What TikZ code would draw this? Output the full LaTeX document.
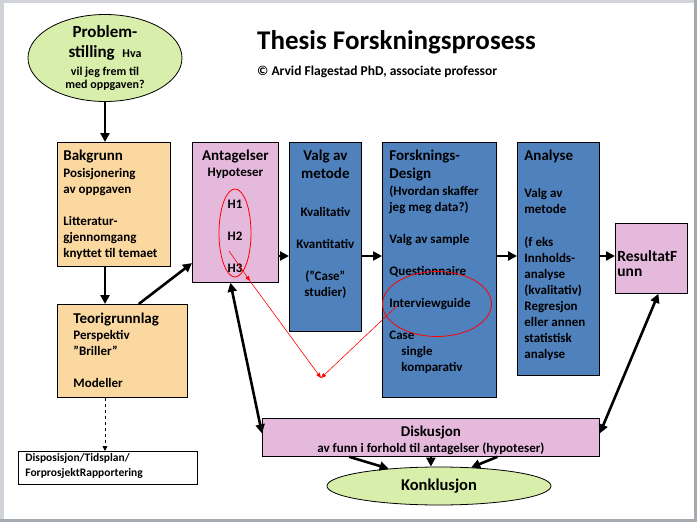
\documentclass[tikz,border=0pt]{standalone}
\usepackage{fontspec}
\setmainfont{Carlito}
\usetikzlibrary{positioning,calc,arrows.meta,shapes.geometric}

\definecolor{blaa}{RGB}{79,129,189}
\definecolor{rosa}{RGB}{229,185,220}
\definecolor{oransje}{RGB}{250,216,160}
\definecolor{groenn}{RGB}{215,239,170}
\definecolor{rammegraa}{RGB}{165,170,176}
\definecolor{lysgraa}{RGB}{208,212,216}

\newcommand{\overskrift}{\fontsize{15}{17}\selectfont}
\newcommand{\brodtekst}{\fontsize{13}{16}\selectfont\bfseries}
\newcommand{\felt}[3]{\parbox[t][#2][t]{#1}{#3}}

\begin{document}
\begin{tikzpicture}[x=1pt, y=-1pt,
	boks/.style={draw=black, line width=0.8pt, anchor=north west, inner xsep=6pt, inner ysep=8pt, font=\brodtekst},
	pil/.style={-{Triangle[length=9pt,width=9pt]}, line width=2.6pt},
	dobbelpil/.style={{Triangle[length=9pt,width=9pt]}-{Triangle[length=9pt,width=9pt]}, line width=2.6pt},
	rodring/.style={draw=red, ellipse, line width=0.8pt, inner sep=0pt},
	rodpil/.style={red, line width=0.6pt, -{Triangle[length=5pt,width=4pt]}}]
		% ramme
		\useasboundingbox (0,0) rectangle (697,522);
		\fill[rammegraa] (0,0) rectangle (697,522);
		\fill[lysgraa] (0,0) rectangle (694,519);
		\fill[white] (4,3) rectangle (694,519);

		\node[anchor=west, inner sep=0pt, font=\fontsize{27}{30}\selectfont\bfseries] (tittel) at (257,42) {Thesis Forskningsprosess};
		\node[anchor=west, inner sep=0pt, font=\fontsize{13.5}{15}\selectfont\bfseries] (forfatter) at (257,72) {© Arvid Flagestad PhD, associate professor};

		\node[ellipse, draw, line width=0.8pt, fill=groenn, minimum width=154pt, minimum height=87pt, inner sep=0pt] (problem) at (105,58) {};
		\node[anchor=north, inner sep=0pt, align=center, font=\fontsize{17}{20}\selectfont\bfseries] (problemtekst) at (105,25)
			{Problem-\\ stilling\ \ {\fontsize{12}{14}\selectfont Hva}\\[-2pt]
			{\fontsize{12}{14}\selectfont vil jeg frem til}\\[-7pt] {\fontsize{12}{14}\selectfont med oppgaven?}};

		\node[boks, fill=oransje] (bakgrunn) at (57,142) {\felt{101pt}{108pt}{{\overskrift Bakgrunn}\\[1pt] Posisjonering\\ av oppgaven\\[16pt] Litteratur-\\ gjennomgang\\ knyttet til temaet}};
		\node[boks, fill=oransje, inner xsep=16pt, inner ysep=9pt] (teori) at (57,304) {\felt{98pt}{75pt}{{\overskrift Teorigrunnlag}\\ Perspektiv\\ ”Briller”\\[16pt] Modeller}};
		\node[boks, fill=rosa] (antag) at (192,142) {\felt{74pt}{124pt}{\centering{\overskrift Antagelser}\\ Hypoteser}};
		\node[boks, fill=blaa, inner xsep=4pt] (metode) at (289,142) {\felt{64pt}{173pt}{\centering{\overskrift Valg av\\[2pt] metode}\\[22pt] Kvalitativ\\[16pt] Kvantitativ\\[16pt] (”Case”\\ studier)}};
		\node[boks, fill=blaa, inner xsep=7pt] (forsk) at (382,142) {\felt{100pt}{239pt}{{\overskrift Forsknings-\\[2pt] Design}\\[1pt] (Hvordan skaffer\\ jeg meg data?)\\[16pt] Valg av sample\\[16pt] Questionnaire\\[16pt] Interviewguide\\[16pt] Case\\ \hspace*{12pt}single\\ \hspace*{12pt}komparativ}};
		\node[boks, fill=blaa, inner xsep=7pt] (analyse) at (517,142) {\felt{68pt}{217pt}{{\overskrift Analyse}\\[21pt] Valg av\\ metode\\[17pt] (f eks\\ Innholds-\\ analyse\\ (kvalitativ)\\ Regresjon\\ eller annen\\ statistisk\\ analyse}};
		\node[boks, fill=rosa, inner xsep=2pt, inner ysep=2pt, font=\fontsize{15.5}{15}\selectfont\bfseries] (resultat) at (615,223)
			{\felt{68pt}{66pt}{\vspace*{25pt}ResultatF\\unn}};
		\node[boks, fill=rosa] (disk) at (262,418)
			{\felt{325pt}{22pt}{\centering{\overskrift Diskusjon}\\ av funn i forhold til antagelser (hypoteser)}};
		\node[ellipse, draw, line width=0.8pt, fill=groenn, minimum width=224pt, minimum height=38pt, inner sep=0pt,
			font=\fontsize{16.5}{18}\selectfont\bfseries] (konkl) at (439,486) {Konklusjon};
		\node[boks, fill=white, inner xsep=7pt, inner ysep=1pt, font=\fontsize{11.5}{15}\selectfont\bfseries] (dispo) at (18,451)
			{\felt{165pt}{31pt}{\vspace*{1pt}Disposisjon/Tidsplan/\\ForprosjektRapportering}};

		\node[font=\brodtekst] (h1) at (235,204) {H1};
		\node[font=\brodtekst] (h2) at (235,236) {H2};
		\node[font=\brodtekst] (h3) at (235,268) {H3};
		\node[rodring, minimum width=32pt, minimum height=88pt] (hring) at (235,233) {};
		\node[rodring, minimum width=109pt, minimum height=65pt] (intring) at (437,304) {};

		% piler
		\coordinate (rad) at (0,256);
		\draw[pil] (problem.south) -- (problem.south |- bakgrunn.north);
		\draw[pil] (bakgrunn.south -| problem.south) -- (teori.north -| problem.south);
		\draw[pil] ($(teori.north west)!0.625!(teori.north east)$) -- ($(antag.south west)!0.14!(antag.north west)$);
		\draw[pil] (antag.east |- rad) -- (metode.west |- rad);
		\draw[pil] (metode.east |- rad) -- (forsk.west |- rad);
		\draw[pil] (forsk.east |- rad) -- (analyse.west |- rad);
		\draw[pil] (analyse.east |- rad) -- (resultat.west |- rad);
		\draw[dobbelpil] ($(antag.south)+(-5,0)$) -- ($(disk.west)+(0,-4)$);
		\draw[dobbelpil] ($(resultat.south)+(7,0)$) -- ($(disk.east)+(0,-4)$);
		\draw[pil] ($(disk.south west)!0.258!(disk.south east)$) -- (konkl.161);
		\draw[pil] (disk.south) -- (disk.south |- konkl.north);
		\draw[pil] ($(disk.south west)!0.697!(disk.south east)$) -- (konkl.30);
		\draw[line width=0.8pt, dashed, -{Triangle[length=5pt,width=5pt]}] (teori.south -| problem.south) -- (dispo.north -| problem.south);

		% rode streker
		\coordinate (rodstart) at (229,251);
		\coordinate (rodmidt) at (250,281);
		\coordinate (rodhjorne) at (321,378);
		\coordinate (rodslutt) at (397,306);
		\draw[rodpil] (rodstart) -- (rodmidt);
		\draw[rodpil] (rodmidt) -- (rodhjorne);
		\draw[rodpil, {Triangle[length=5pt,width=4pt]}-] (rodhjorne) -- (rodslutt);
\end{tikzpicture}
\end{document}
